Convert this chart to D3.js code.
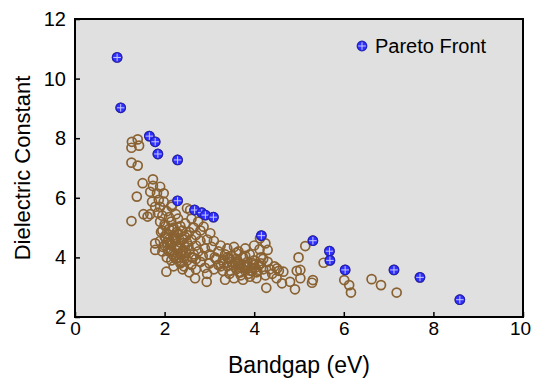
<!DOCTYPE html>
<html>
<head>
<meta charset="utf-8">
<script src="https://cdn.jsdelivr.net/npm/d3@7"></script>
<style>
  body { margin: 0; background: #fff; }
  text { font-family: "Liberation Sans", Arial, sans-serif; fill: #000; }
</style>
</head>
<body>
<div id="svgdiv"></div>
<script>
// bandgap (eV), dielectric constant for every screened material
let bandgap = [
  1.27,1.40,1.43,1.26,1.26,1.40,1.51,1.38,1.26,1.53,1.62,1.68,
  1.74,1.74,1.90,1.83,1.98,1.68,1.72,1.87,1.98,2.16,1.79,1.90,2.50,2.57,2.16,
  1.79,1.79,2.04,2.68,2.94,2.87,3.02,2.46,
  1.85,1.95,2.05,2.10,1.90,2.00,2.15,2.20,1.95,2.05,2.10,1.90,2.00,2.15,1.95,2.10,2.20,2.05,
  2.20,2.25,2.30,2.35,2.25,2.40,2.30,2.45,2.35,2.50,2.30,2.40,2.25,2.35,2.50,2.45,2.55,2.60,
  2.55,2.65,2.70,2.60,2.75,2.80,2.70,2.80,2.65,2.75,2.60,2.70,2.80,2.85,2.90,2.95,2.90,3.00,
  3.00,3.05,3.10,3.15,3.10,3.20,3.20,3.25,3.30,3.30,3.35,3.40,3.40,3.45,3.50,3.50,3.55,3.60,
  3.60,3.65,3.70,3.70,3.75,3.80,3.80,3.85,3.90,3.90,3.95,4.00,4.00,4.05,4.05,4.10,4.15,4.20,
  4.25,4.30,4.35,4.40,4.45,4.50,4.55,3.35,3.55,3.75,2.95,2.55,2.40,2.20,
  2.00,2.10,2.20,2.30,2.40,2.50,2.15,2.25,2.35,2.45,2.05,2.15,2.60,2.70,3.25,3.45,3.65,3.85,
  3.95,4.15,3.60,3.80,4.00,4.20,3.40,3.70,
  1.92,2.02,2.12,1.97,2.07,2.17,2.27,2.02,2.12,2.22,2.32,2.42,2.18,2.28,2.38,2.48,2.33,2.43,
  2.53,2.63,3.42,3.52,3.62,3.72,3.82,3.92,4.02,3.47,3.57,3.67,3.77,3.87,3.97,4.07,3.32,3.12,
  4.13,4.25,4.12,4.30,5.14,4.99,5.55,5.31,5.29,5.03,4.91,4.80,4.62,4.27,4.95,5.03,4.65,4.51,
  6.01,6.12,6.16,6.62,6.83,7.18
];
let dielectric = [
  7.88,7.96,7.75,7.68,7.18,7.08,6.49,6.04,5.22,5.45,5.37,5.45,
  6.62,6.40,6.37,6.15,6.15,6.20,5.87,5.93,5.87,5.76,5.70,5.70,5.65,5.59,5.70,
  4.47,4.25,3.52,3.30,3.18,5.03,4.81,5.14,
  5.50,5.40,5.55,5.35,5.20,5.10,5.20,5.00,4.90,4.80,4.60,4.55,4.40,4.40,4.20,4.20,4.05,4.00,
  4.75,4.55,5.30,5.05,5.45,4.90,4.80,4.70,4.50,4.50,4.30,4.20,3.95,3.80,3.90,4.05,4.25,4.60,
  4.85,5.00,4.75,5.30,5.20,4.90,4.40,4.55,4.10,4.20,3.75,3.60,3.85,4.05,4.30,4.60,3.65,3.80,
  4.10,4.35,4.55,3.95,3.60,3.75,4.20,4.40,3.55,3.90,4.10,4.30,3.70,3.45,3.85,4.05,4.35,3.60,
  3.95,4.20,3.40,3.75,4.00,4.30,3.55,3.85,3.35,4.10,3.65,3.90,4.40,3.50,3.30,3.75,4.00,3.60,
  3.40,3.85,3.60,3.45,3.70,3.30,3.55,3.25,3.30,3.25,3.45,3.50,3.60,3.70,
  4.70,4.95,4.65,4.35,4.60,4.75,4.25,4.65,4.15,4.35,4.50,3.90,4.00,3.95,3.70,3.95,3.80,3.70,
  3.55,3.80,4.15,4.05,3.75,3.95,4.00,3.50,
  4.85,4.65,4.50,4.35,4.25,4.95,4.85,5.05,4.45,4.60,4.40,4.25,4.10,4.00,3.85,4.15,4.00,3.70,
  4.40,4.00,3.95,3.75,3.85,3.65,3.75,3.55,3.65,3.55,3.80,3.50,3.70,3.45,3.80,3.55,3.80,4.00,
  4.64,4.47,4.27,4.25,4.38,4.00,3.82,3.24,3.15,3.30,2.93,3.18,3.13,2.98,3.55,3.58,3.52,3.63,
  3.24,3.07,2.82,3.27,3.07,2.82
];

// non-dominated materials
let paretoBandgap = [0.94,1.02,1.66,1.79,1.85,2.29,2.29,2.67,2.83,2.91,3.09,4.16,5.31,5.68,5.69,6.03,7.12,7.70,8.59];
let paretoDielectric = [10.71,9.02,8.07,7.88,7.47,7.27,5.90,5.59,5.50,5.42,5.35,4.73,4.56,4.21,3.90,3.58,3.58,3.33,2.58];

let xTicks = [0, 2, 4, 6, 8, 10];
let yTicks = [2, 4, 6, 8, 10, 12];

var width = 533, height = 378;
var margin = {left: 75, right: 10, top: 19, bottom: 61};

let svg = d3.select("#svgdiv").append("svg")
    .attr("width", width)
    .attr("height", height);

let x = d3.scaleLinear().domain([0, 10]).range([margin.left, width - margin.right]);
let y = d3.scaleLinear().domain([2, 12]).range([height - margin.bottom, margin.top]);

// plot background
svg.append("rect")
   .attr("x", x(0)).attr("y", y(12))
   .attr("width", x(10) - x(0)).attr("height", y(2) - y(12))
   .style("fill", "#e0e0e0");

let brown = "#8a6232";
let all = bandgap.map((b, i) => ({x: b, y: dielectric[i]}))
   .concat(paretoBandgap.map((b, i) => ({x: b, y: paretoDielectric[i]})));

svg.append("g").selectAll("circle")
   .data(all).enter().append("circle")
   .attr("cx", d => x(d.x))
   .attr("cy", d => y(d.y))
   .attr("r", 4.5)
   .style("fill", "none")
   .style("stroke", brown)
   .style("stroke-width", 1.7);

// pareto marker: filled blue circle with a light cross
function paretoMarker(g, cx, cy, r) {
    g.append("circle")
     .attr("cx", cx).attr("cy", cy).attr("r", r)
     .style("fill", "#3030ff")
     .style("stroke", "#2020bb")
     .style("stroke-width", 1.2);
    g.append("line")
     .attr("x1", cx - r + 1).attr("x2", cx + r - 1)
     .attr("y1", cy).attr("y2", cy)
     .style("stroke", "#c8c8ff").style("stroke-width", 1);
    g.append("line")
     .attr("x1", cx).attr("x2", cx)
     .attr("y1", cy - r + 1).attr("y2", cy + r - 1)
     .style("stroke", "#c8c8ff").style("stroke-width", 1);
}

let pg = svg.append("g");
for (let i = 0; i < paretoBandgap.length; ++i) {
    paretoMarker(pg, x(paretoBandgap[i]), y(paretoDielectric[i]), 4.8);
}

// axes with inward ticks
svg.append("g")
   .attr("transform", "translate(0," + y(2) + ")")
   .call(d3.axisBottom(x).tickValues(xTicks).tickSizeInner(-5).tickSizeOuter(0).tickPadding(5))
   .call(g => g.select(".domain").remove())
   .call(g => g.selectAll("line").style("stroke-width", 1.5))
   .call(g => g.selectAll("text").style("font-size", "19px"))
   // keep the last label inside the page
   .call(g => g.selectAll("text").filter(d => d == 10).attr("x", -3));

svg.append("g")
   .attr("transform", "translate(" + x(0) + ",0)")
   .call(d3.axisLeft(y).tickValues(yTicks).tickSizeInner(-5).tickSizeOuter(0).tickPadding(9))
   .call(g => g.select(".domain").remove())
   .call(g => g.selectAll("line").style("stroke-width", 1.5))
   .call(g => g.selectAll("text").style("font-size", "20px"));

// frame
svg.append("rect")
   .attr("x", x(0)).attr("y", y(12))
   .attr("width", x(10) - x(0)).attr("height", y(2) - y(12))
   .style("fill", "none")
   .style("stroke", "#000")
   .style("stroke-width", 2);

// legend
paretoMarker(svg.append("g"), 362, 46, 4.8);
svg.append("text")
   .attr("x", 375).attr("y", 53)
   .style("font-size", "20px")
   .text("Pareto Front");

// axis titles
svg.append("text")
   .attr("x", (x(0) + x(10)) / 2).attr("y", 373)
   .attr("text-anchor", "middle")
   .style("font-size", "23px")
   .text("Bandgap (eV)");

svg.append("text")
   .attr("transform", "translate(30," + (y(7)) + ") rotate(-90)")
   .attr("text-anchor", "middle")
   .style("font-size", "22px")
   .text("Dielectric Constant");
</script>
</body>
</html>
